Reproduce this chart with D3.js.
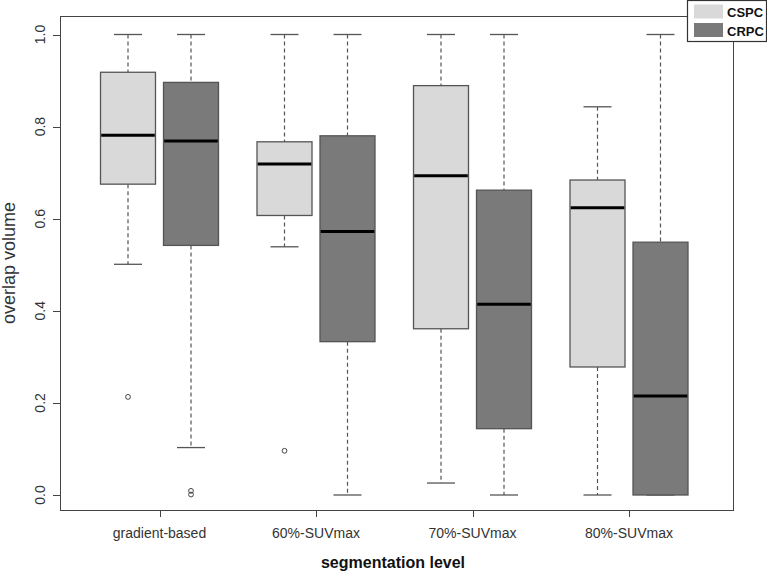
<!DOCTYPE html>
<html>
<head>
<meta charset="utf-8">
<script src="https://cdn.jsdelivr.net/npm/d3@7"></script>
<style>
  html, body { margin: 0; padding: 0; background: #ffffff; }
  svg { display: block; }
</style>
</head>
<body>
<svg id="chart" width="767" height="571"></svg>
<script>
// ---------------- data ----------------
const categories = ["gradient-based", "60%-SUVmax", "70%-SUVmax", "80%-SUVmax"];
const seriesNames = ["CSPC", "CRPC"];
const yTicks = [0.0, 0.2, 0.4, 0.6, 0.8, 1.0];

const cspcLower   = [0.501, 0.539, 0.026, 0.000];
const cspcQ1      = [0.675, 0.607, 0.361, 0.278];
const cspcMedian  = [0.781, 0.719, 0.693, 0.624];
const cspcQ3      = [0.918, 0.767, 0.889, 0.684];
const cspcUpper   = [1.000, 1.000, 1.000, 0.843];
const cspcOutliers = [[0.213], [0.096], [], []];

const crpcLower   = [0.103, 0.000, 0.000, 0.000];
const crpcQ1      = [0.542, 0.333, 0.144, 0.000];
const crpcMedian  = [0.769, 0.572, 0.414, 0.215];
const crpcQ3      = [0.896, 0.780, 0.662, 0.549];
const crpcUpper   = [1.000, 1.000, 1.000, 1.000];
const crpcOutliers = [[0.009, 0.001], [], [], []];

const seriesFill = { CSPC: "#d9d9d9", CRPC: "#7a7a7a" };

// build box records
const boxes = [];
categories.forEach((c, i) => {
  boxes.push({ cat: c, series: "CSPC", lo: cspcLower[i], q1: cspcQ1[i], med: cspcMedian[i], q3: cspcQ3[i], hi: cspcUpper[i], out: cspcOutliers[i] });
  boxes.push({ cat: c, series: "CRPC", lo: crpcLower[i], q1: crpcQ1[i], med: crpcMedian[i], q3: crpcQ3[i], hi: crpcUpper[i], out: crpcOutliers[i] });
});

// ---------------- layout ----------------
const frame = { left: 60, right: 733, top: 16, bottom: 510 };
const svg = d3.select("#chart");

const y = d3.scaleLinear().domain([0, 1]).range([495, 34.5]);
const xGroup = d3.scalePoint().domain(categories).range([159.5, 629]);
const xInner = d3.scalePoint().domain(seriesNames).range([-31.5, 31.5]);
const boxW = 55, capW = 28;
const cx = d => xGroup(d.cat) + xInner(d.series);

const lineCol = "#555555";

// frame
svg.append("rect")
  .attr("x", frame.left + 0.5).attr("y", frame.top + 0.5)
  .attr("width", frame.right - frame.left).attr("height", frame.bottom - frame.top)
  .attr("fill", "none").attr("stroke", "#444").attr("stroke-width", 1);

// y axis
const yAxis = svg.append("g");
yTicks.forEach(t => {
  yAxis.append("line")
    .attr("x1", frame.left - 7).attr("x2", frame.left)
    .attr("y1", Math.round(y(t)) + 0.5).attr("y2", Math.round(y(t)) + 0.5)
    .attr("stroke", "#444").attr("stroke-width", 1);
  yAxis.append("text")
    .attr("transform", `translate(${frame.left - 15},${y(t)}) rotate(-90)`)
    .attr("text-anchor", "middle")
    .attr("font-family", "Liberation Sans, Arial, sans-serif")
    .attr("font-size", 14).attr("fill", "#333")
    .text(d3.format(".1f")(t));
});

// x axis ticks and labels
const xAxis = svg.append("g");
categories.forEach(c => {
  xAxis.append("line")
    .attr("x1", Math.round(xGroup(c)) + 0.5).attr("x2", Math.round(xGroup(c)) + 0.5)
    .attr("y1", frame.bottom).attr("y2", frame.bottom + 7)
    .attr("stroke", "#444").attr("stroke-width", 1);
  xAxis.append("text")
    .attr("x", xGroup(c)).attr("y", frame.bottom + 28)
    .attr("text-anchor", "middle")
    .attr("font-family", "Liberation Sans, Arial, sans-serif")
    .attr("font-size", 14).attr("fill", "#333")
    .text(c);
});

// axis titles
svg.append("text")
  .attr("x", 393).attr("y", 568)
  .attr("text-anchor", "middle")
  .attr("font-family", "Liberation Sans, Arial, sans-serif")
  .attr("font-size", 16).attr("font-weight", "bold").attr("fill", "#111")
  .text("segmentation level");

svg.append("text")
  .attr("transform", `translate(15,${(frame.top + frame.bottom) / 2}) rotate(-90)`)
  .attr("text-anchor", "middle")
  .attr("font-family", "Liberation Sans, Arial, sans-serif")
  .attr("font-size", 18).attr("fill", "#333")
  .text("overlap volume");

// boxes
const g = svg.append("g");
const bx = g.selectAll("g.box").data(boxes).join("g").attr("class", "box");

// whiskers (dashed)
bx.append("line")
  .attr("x1", d => cx(d)).attr("x2", d => cx(d))
  .attr("y1", d => y(d.hi)).attr("y2", d => y(d.q3))
  .attr("stroke", lineCol).attr("stroke-width", 1.2).attr("stroke-dasharray", "4,3");
bx.append("line")
  .attr("x1", d => cx(d)).attr("x2", d => cx(d))
  .attr("y1", d => y(d.q1)).attr("y2", d => y(d.lo))
  .attr("stroke", lineCol).attr("stroke-width", 1.2).attr("stroke-dasharray", "4,3");
// caps
bx.append("line")
  .attr("x1", d => cx(d) - capW / 2).attr("x2", d => cx(d) + capW / 2)
  .attr("y1", d => y(d.hi)).attr("y2", d => y(d.hi))
  .attr("stroke", lineCol).attr("stroke-width", 1.3);
bx.append("line")
  .attr("x1", d => cx(d) - capW / 2).attr("x2", d => cx(d) + capW / 2)
  .attr("y1", d => y(d.lo)).attr("y2", d => y(d.lo))
  .attr("stroke", lineCol).attr("stroke-width", 1.3);
// box
bx.append("rect")
  .attr("x", d => cx(d) - boxW / 2).attr("width", boxW)
  .attr("y", d => y(d.q3)).attr("height", d => y(d.q1) - y(d.q3))
  .attr("fill", d => seriesFill[d.series])
  .attr("stroke", lineCol).attr("stroke-width", 1.3);
// median
bx.append("line")
  .attr("x1", d => cx(d) - boxW / 2 + 0.7).attr("x2", d => cx(d) + boxW / 2 - 0.7)
  .attr("y1", d => y(d.med)).attr("y2", d => y(d.med))
  .attr("stroke", "#000").attr("stroke-width", 3);
// outliers
bx.each(function(d) {
  d3.select(this).selectAll("circle").data(d.out).join("circle")
    .attr("cx", cx(d)).attr("cy", v => y(v)).attr("r", 2.4)
    .attr("fill", "none").attr("stroke", "#444").attr("stroke-width", 1);
});

// legend
const leg = svg.append("g");
leg.append("rect")
  .attr("x", 687.5).attr("y", 0.5).attr("width", 79).attr("height", 41)
  .attr("fill", "#fff").attr("stroke", "#333").attr("stroke-width", 1.2);
seriesNames.forEach((s, i) => {
  leg.append("rect")
    .attr("x", 694).attr("y", 4.5 + i * 18.5).attr("width", 29).attr("height", 14)
    .attr("fill", seriesFill[s]);
  leg.append("text")
    .attr("x", 727).attr("y", 17 + i * 18.5)
    .attr("font-family", "Liberation Sans, Arial, sans-serif")
    .attr("font-size", 13).attr("font-weight", "bold").attr("fill", "#111")
    .text(s);
});
</script>
</body>
</html>
